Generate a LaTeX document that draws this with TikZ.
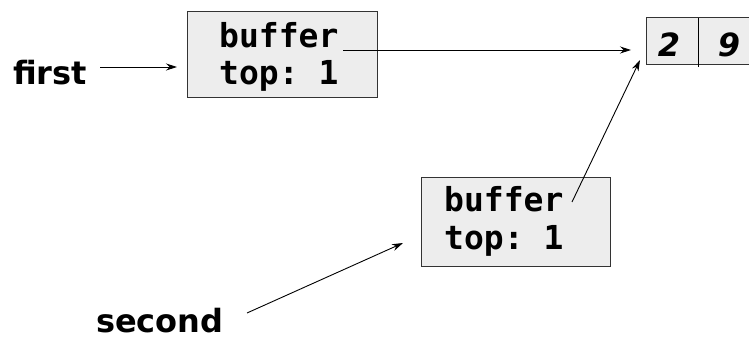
\documentclass[tikz,border=0pt]{standalone}
\usepackage{fontspec}
\setmainfont{DejaVu Sans}
\setmonofont{DejaVu Sans Mono}
\usetikzlibrary{arrows.meta}
\begin{document}
\begin{tikzpicture}[x=1pt,y=-1pt,
  boxstyle/.style={draw=black!80,fill=black!7,line width=1pt},
  monotext/.style={anchor=base west,inner sep=0pt,font=\fontsize{33}{40}\selectfont\ttfamily\bfseries},
  labeltext/.style={anchor=base west,inner sep=0pt,font=\fontsize{32}{38}\selectfont\bfseries},
  numtext/.style={anchor=base,inner sep=0pt,font=\fontsize{32}{38}\selectfont\bfseries\itshape},
  ptr/.style={draw=black,line width=0.9pt,-{Stealth[length=11pt,width=7pt]}}]
\useasboundingbox (0,0) rectangle (749,347);
% boxes
\path[boxstyle] (187,12) rectangle (377,98);
\path[boxstyle] (421,178) rectangle (610,266);
\path[boxstyle] (646,18) rectangle (749,65);
\draw[black,line width=1pt] (698,18) -- (698,67);
% texts
\node[monotext] (b1a) at (219,48) {buffer};
\node[monotext] (b1b) at (219,85) {top: 1};
\node[monotext] (b2a) at (444,212) {buffer};
\node[monotext] (b2b) at (444,250) {top: 1};
\node[labeltext] (first) at (13,85) {first};
\node[labeltext] (second) at (96,332) {second};
\node[numtext] (n2) at (669,57) {2};
\node[numtext] (n9) at (729,57) {9};
% connector ends
\coordinate (f0) at (100,67);
\coordinate (f1) at (177,67);
\coordinate (p0) at (343,50);
\coordinate (p1) at (631,50);
\coordinate (q0) at (572,202);
\coordinate (q1) at (640,60);
\coordinate (s0) at (247,313);
\coordinate (s1) at (403,243);
\draw[ptr] (f0) -- (f1);
\draw[ptr] (p0) -- (p1);
\draw[ptr] (q0) -- (q1);
\draw[ptr] (s0) -- (s1);
\end{tikzpicture}
\end{document}
